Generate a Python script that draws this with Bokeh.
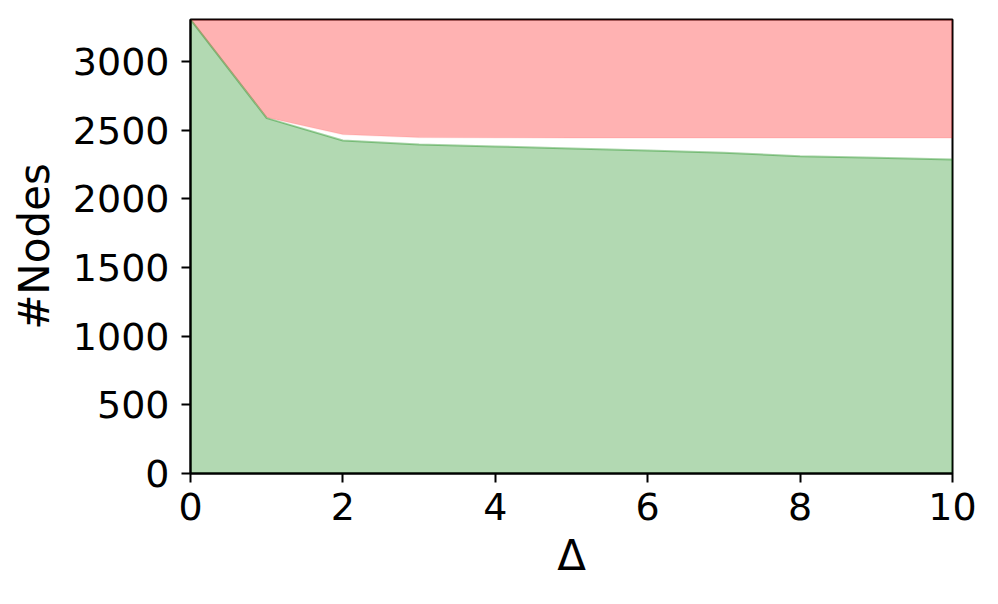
from bokeh.plotting import figure
from bokeh.models import Range1d, FixedTicker
from bokeh.embed import file_html
from bokeh.resources import INLINE

# Data
delta = [0, 1, 2, 3, 4, 5, 6, 7, 8, 9, 10]
total_nodes = [3306, 3306, 3306, 3306, 3306, 3306, 3306, 3306, 3306, 3306, 3306]
green_nodes = [3306, 2588, 2425, 2396, 2382, 2367, 2352, 2336, 2311, 2299, 2287]
red_lower = [3306, 2592, 2469, 2446, 2445, 2444, 2444, 2444, 2444, 2444, 2444]
x_ticks = [0, 2, 4, 6, 8, 10]
y_ticks = [0, 500, 1000, 1500, 2000, 2500, 3000]

FONT = "DejaVu Sans"

p = figure(
    output_backend="svg", toolbar_location=None,
    frame_width=762, frame_height=454,
    x_range=Range1d(0, 10), y_range=Range1d(0, 3306),
    min_border_left=190, min_border_top=19, min_border_right=28, min_border_bottom=104,
)

p.varea(x=delta, y1=[0] * len(delta), y2=green_nodes, fill_color="green", fill_alpha=0.3)
p.varea(x=delta, y1=red_lower, y2=total_nodes, fill_color="red", fill_alpha=0.3)
p.line(x=delta, y=red_lower, line_color="red", line_alpha=0.08, line_width=1.5)
p.line(x=delta, y=green_nodes, line_color="green", line_alpha=0.35, line_width=2)

p.xgrid.visible = False
p.ygrid.visible = False
p.outline_line_color = "black"
p.outline_line_width = 2
p.outline_line_alpha = 1
p.background_fill_color = "white"
p.border_fill_color = "white"

p.xaxis.ticker = FixedTicker(ticks=x_ticks)
p.yaxis.ticker = FixedTicker(ticks=y_ticks)
for ax in (p.xaxis, p.yaxis):
    ax.axis_line_width = 2
    ax.axis_line_color = "black"
    ax.major_tick_line_width = 2
    ax.major_tick_line_color = "black"
    ax.major_tick_in = 0
    ax.major_tick_out = 9
    ax.minor_tick_line_color = None
    ax.major_label_text_font = FONT
    ax.major_label_text_font_size = "38px"
    ax.major_label_text_color = "black"
    ax.axis_label_text_font = FONT
    ax.axis_label_text_font_size = "42px"
    ax.axis_label_text_font_style = "normal"
    ax.axis_label_text_color = "black"

p.xaxis.axis_label = "Δ"
p.yaxis.axis_label = "#Nodes"
p.xaxis.major_label_standoff = 10
p.yaxis.major_label_standoff = 12
p.xaxis.axis_label_standoff = 8
p.yaxis.axis_label_standoff = 11

open("out.html", "w").write(file_html(p, INLINE))
